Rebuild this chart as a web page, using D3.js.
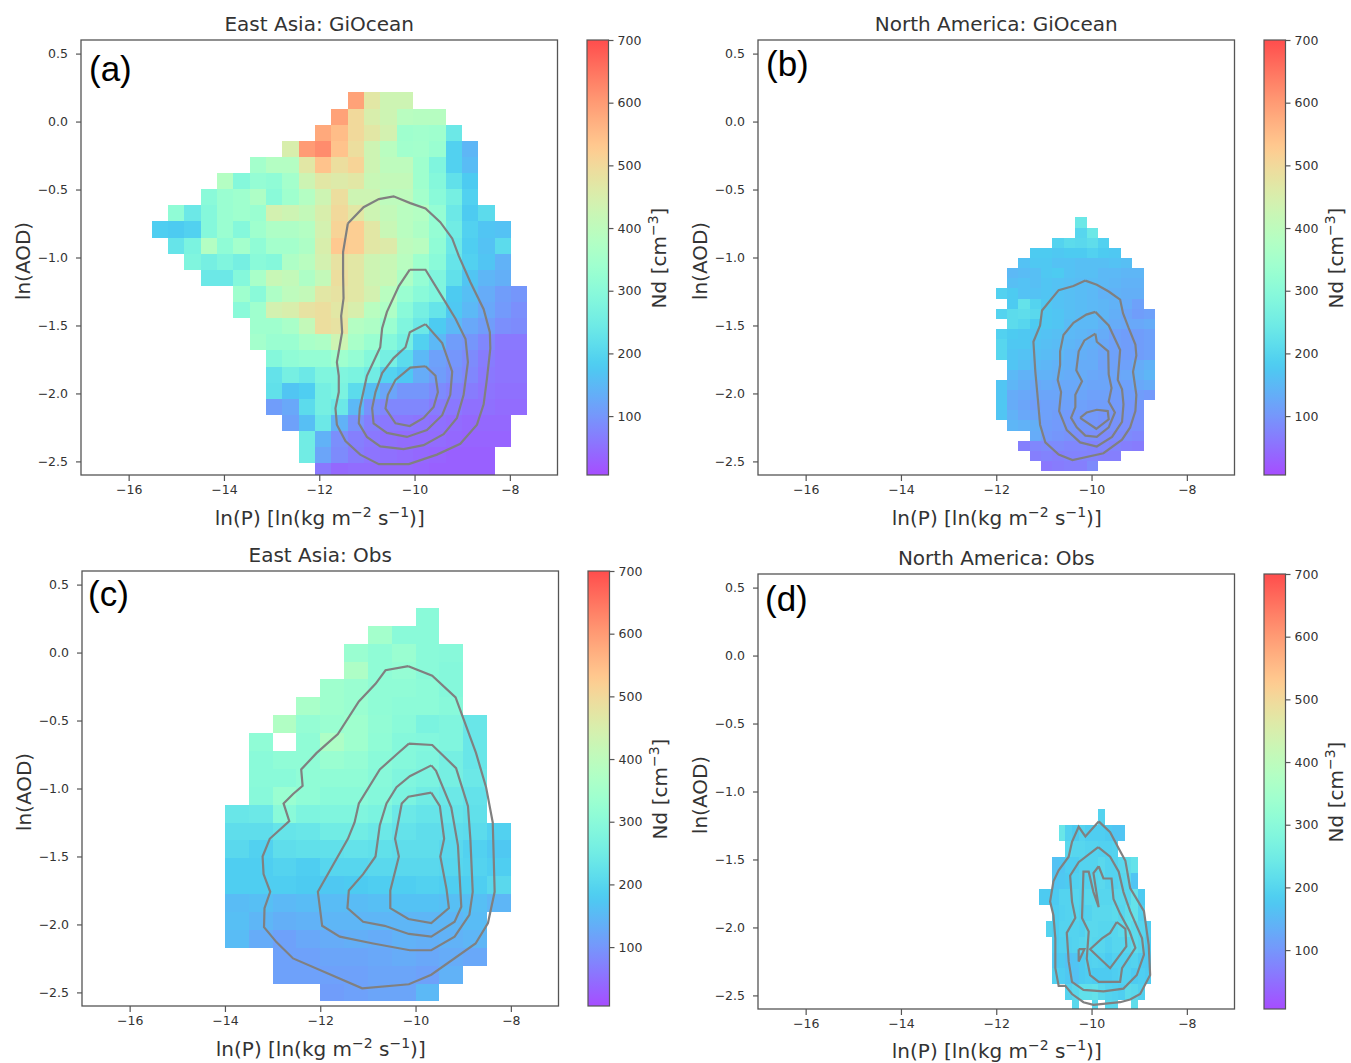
<!DOCTYPE html>
<html>
<head>
<meta charset="utf-8">
<script src="https://cdn.jsdelivr.net/npm/d3@7"></script>
<style>
  body { margin: 0; background: #fff; }
  svg text { font-family: "DejaVu Sans", sans-serif; fill: #333; }
</style>
</head>
<body>
<div id="graph"></div>
<script>
/* globals d3 */
const xTicks = [-16, -14, -12, -10, -8];
const yTicks = [0.5, 0, -0.5, -1, -1.5, -2, -2.5];
const cbarTicks = [100, 200, 300, 400, 500, 600, 700];

// Nd per bin, one list per row from the top, first column of each row in the *Start list
const aStart = [12, 11, 10, 8, 6, 4, 3, 1, 0, 1, 2, 3, 5, 5, 6, 6, 7, 7, 7, 7, 8, 9, 9, 10];
const aGrid = [
  [590, 470, 430, 430],
  [590, 500, 450, 430, 390, 385, 385],
  [580, 550, 500, 470, 440, 340, 345, 340, 240],
  [450, 600, 620, 540, 490, 430, 390, 345, 350, 330, 190, 145],
  [350, 380, 380, 470, 540, 490, 510, 430, 400, 400, 340, 280, 190, 155],
  [380, 290, 320, 310, 350, 430, 470, 460, 470, 420, 410, 410, 340, 290, 220, 180],
  [300, 330, 340, 370, 300, 340, 380, 430, 490, 430, 430, 400, 400, 350, 300, 260, 190],
  [310, 240, 290, 330, 340, 330, 440, 430, 410, 450, 500, 470, 430, 410, 390, 380, 320, 240, 180, 210],
  [185, 180, 190, 290, 330, 290, 340, 370, 370, 380, 440, 510, 520, 470, 420, 390, 370, 320, 250, 190, 170, 165],
  [230, 270, 380, 310, 350, 310, 350, 350, 370, 450, 530, 520, 470, 460, 400, 390, 310, 240, 185, 165, 210],
  [280, 260, 280, 260, 300, 290, 370, 390, 440, 480, 470, 430, 420, 390, 340, 300, 230, 190, 170, 140],
  [240, 240, 290, 360, 420, 410, 370, 410, 490, 470, 430, 420, 370, 320, 280, 220, 170, 145, 135],
  [340, 300, 370, 400, 410, 470, 480, 470, 440, 390, 330, 300, 280, 180, 160, 130, 110, 100],
  [300, 340, 440, 450, 480, 490, 470, 450, 390, 370, 300, 260, 230, 175, 150, 125, 105, 90],
  [340, 340, 360, 410, 490, 480, 380, 370, 330, 280, 240, 180, 150, 125, 110, 90, 85],
  [350, 330, 330, 360, 370, 430, 360, 330, 290, 260, 190, 150, 110, 100, 80, 60, 60],
  [290, 310, 320, 320, 340, 320, 290, 260, 210, 150, 115, 100, 85, 65, 55, 55],
  [225, 260, 240, 280, 280, 270, 250, 195, 175, 130, 110, 95, 80, 60, 55, 55],
  [220, 170, 185, 260, 270, 210, 160, 120, 100, 100, 85, 75, 65, 55, 50, 50],
  [110, 125, 210, 260, 240, 150, 95, 80, 80, 80, 65, 60, 50, 50, 45, 45],
  [115, 160, 240, 140, 95, 70, 60, 60, 55, 50, 45, 40, 40, 40],
  [250, 140, 90, 70, 60, 50, 45, 45, 45, 40, 35, 35, 35],
  [250, 120, 85, 65, 55, 50, 45, 40, 35, 30, 30, 30],
  [60, 40, 45, 45, 40, 40, 35, 30, 30, 30, 30]
];
const aContours = [
  [[-11.40,-0.75],[-11.07,-0.63],[-10.75,-0.57],[-10.44,-0.55],[-10.09,-0.60],[-9.77,-0.64],[-9.46,-0.74],[-9.21,-0.86],[-9.07,-0.99],[-8.83,-1.18],[-8.55,-1.38],[-8.42,-1.55],[-8.41,-1.67],[-8.48,-1.89],[-8.55,-2.08],[-8.69,-2.23],[-9.04,-2.37],[-9.53,-2.45],[-10.12,-2.52],[-10.75,-2.52],[-11.14,-2.45],[-11.45,-2.35],[-11.63,-2.23],[-11.66,-2.11],[-11.59,-1.99],[-11.59,-1.87],[-11.63,-1.77],[-11.52,-1.55],[-11.54,-1.43],[-11.49,-1.30],[-11.50,-1.13],[-11.50,-0.96],[-11.40,-0.75]],
  [[-10.10,-1.09],[-9.77,-1.09],[-9.42,-1.29],[-9.14,-1.45],[-8.93,-1.60],[-8.88,-1.77],[-8.97,-2.01],[-9.11,-2.18],[-9.39,-2.30],[-9.81,-2.38],[-10.23,-2.41],[-10.72,-2.39],[-11.00,-2.32],[-11.17,-2.22],[-11.15,-2.11],[-11.00,-1.87],[-10.72,-1.66],[-10.68,-1.52],[-10.58,-1.40],[-10.33,-1.21],[-10.10,-1.09]],
  [[-9.77,-1.49],[-10.10,-1.55],[-10.19,-1.66],[-10.44,-1.74],[-10.68,-1.85],[-10.82,-1.99],[-10.89,-2.11],[-10.86,-2.22],[-10.58,-2.29],[-10.16,-2.32],[-9.74,-2.27],[-9.42,-2.16],[-9.25,-2.01],[-9.21,-1.84],[-9.42,-1.63],[-9.77,-1.49]],
  [[-9.77,-1.80],[-10.09,-1.81],[-10.40,-1.90],[-10.56,-2.01],[-10.61,-2.11],[-10.40,-2.22],[-10.10,-2.24],[-9.81,-2.18],[-9.60,-2.10],[-9.51,-1.99],[-9.56,-1.87],[-9.77,-1.80]]
];

const bStart = [7, 7, 5, 3, 2, 1, 1, 0, 1, 0, 1, 0, 0, 0, 1, 1, 0, 0, 0, 0, 1, 3, 2, 3, 4];
const bGrid = [
  [240],
  [200, 240],
  [195, 210, 205, 215, 190],
  [180, 180, 175, 180, 180, 190, 180, 175],
  [165, 175, 175, 165, 165, 160, 160, 160, 165, 160],
  [150, 155, 160, 175, 180, 165, 160, 160, 150, 150, 145, 145],
  [160, 165, 160, 170, 165, 160, 155, 155, 150, 145, 140, 140],
  [190, 180, 165, 165, 170, 165, 160, 155, 150, 140, 140, 135, 135],
  [180, 225, 195, 175, 165, 160, 155, 150, 145, 140, 130, 115],
  [195, 210, 215, 205, 175, 170, 160, 155, 150, 145, 135, 120, 110, 115],
  [210, 200, 180, 175, 170, 155, 150, 150, 140, 130, 125, 125, 130],
  [190, 180, 175, 170, 165, 160, 150, 145, 140, 130, 115, 110, 110, 115],
  [200, 175, 175, 165, 160, 155, 145, 140, 135, 125, 115, 110, 110, 115],
  [200, 170, 165, 160, 155, 150, 140, 135, 130, 120, 115, 110, 110, 115],
  [170, 160, 150, 145, 140, 135, 130, 130, 115, 115, 115, 130, 140],
  [150, 140, 140, 140, 135, 130, 130, 125, 120, 120, 125, 135, 145],
  [170, 145, 135, 125, 130, 125, 125, 125, 120, 120, 115, 115, 125, 130],
  [170, 130, 125, 120, 120, 120, 120, 120, 115, 115, 110, 110, 110, 105],
  [175, 130, 120, 110, 115, 115, 115, 115, 110, 110, 105, 100, 100],
  [170, 140, 125, 120, 115, 110, 105, 105, 105, 100, 100, 100, 95],
  [145, 140, 135, 110, 105, 100, 100, 100, 95, 95, 90, 90],
  [130, 105, 100, 95, 90, 90, 85, 85, 85, 80],
  [70, 80, 85, 85, 80, 80, 75, 80, 75, 70, 65],
  [70, 75, 70, 75, 75, 75, 70, 70],
  [60, 65, 70, 70, 85]
];
const bContours = [
  [[-10.13,-1.17],[-9.89,-1.20],[-9.64,-1.25],[-9.40,-1.31],[-9.34,-1.41],[-9.22,-1.52],[-9.08,-1.64],[-9.06,-1.72],[-9.13,-1.84],[-9.06,-2.01],[-9.08,-2.13],[-9.19,-2.25],[-9.36,-2.34],[-9.75,-2.44],[-10.40,-2.49],[-10.69,-2.45],[-10.97,-2.36],[-11.08,-2.23],[-11.13,-2.03],[-11.18,-1.84],[-11.22,-1.62],[-11.08,-1.50],[-11.04,-1.39],[-10.69,-1.24],[-10.38,-1.21],[-10.13,-1.17]],
  [[-9.92,-1.40],[-10.11,-1.42],[-10.38,-1.48],[-10.59,-1.57],[-10.66,-1.69],[-10.66,-1.79],[-10.71,-1.90],[-10.64,-1.99],[-10.68,-2.13],[-10.52,-2.27],[-10.24,-2.36],[-9.89,-2.39],[-9.57,-2.32],[-9.36,-2.21],[-9.33,-2.08],[-9.36,-1.97],[-9.45,-1.90],[-9.40,-1.68],[-9.64,-1.50],[-9.92,-1.40]],
  [[-9.92,-1.56],[-10.15,-1.61],[-10.27,-1.69],[-10.32,-1.83],[-10.20,-1.91],[-10.34,-2.01],[-10.34,-2.10],[-10.43,-2.18],[-10.31,-2.25],[-10.13,-2.31],[-9.89,-2.32],[-9.64,-2.25],[-9.51,-2.14],[-9.64,-2.06],[-9.58,-1.96],[-9.64,-1.86],[-9.65,-1.69],[-9.89,-1.62],[-9.92,-1.56]],
  [[-10.24,-2.18],[-10.10,-2.14],[-9.89,-2.12],[-9.66,-2.13],[-9.64,-2.19],[-9.90,-2.26],[-10.24,-2.18]]
];

const cStart = [8, 6, 5, 5, 4, 3, 2, 1, 1, 1, 1, 0, 0, 0, 0, 0, 0, 0, 0, 2, 2, 4];
const cGrid = [
  [300],
  [350, 300, 300],
  [330, 310, 330, 300, 295],
  [370, 310, 320, 300, 290],
  [340, 330, 310, 310, 305, 290],
  [360, 340, 330, 310, 305, 305, 295],
  [375, 320, 330, 340, 315, 300, 270, 280, 235],
  [310, null, 310, 370, 340, 310, 290, 285, 280, 235],
  [300, 310, 310, 330, 320, 300, 290, 280, 260, 235],
  [300, 300, 310, 310, 310, 295, 280, 270, 260, 240],
  [295, 330, 310, 300, 300, 290, 270, 250, 240, 225],
  [235, 240, 300, 275, 280, 280, 270, 240, 230, 230, 220],
  [215, 215, 230, 235, 250, 250, 240, 225, 215, 215, 210, 190],
  [205, 190, 215, 220, 220, 225, 220, 215, 215, 205, 190, 175],
  [185, 185, 195, 185, 200, 200, 205, 205, 205, 200, 195, 185],
  [185, 185, 185, 180, 175, 180, 185, 185, 190, 185, 185, 205],
  [155, 160, 150, 155, 155, 155, 160, 165, 165, 160, 160, 145],
  [160, 145, 135, 140, 145, 145, 145, 145, 145, 145, 155],
  [155, 130, 115, 125, 130, 135, 130, 140, 135, 140, 145],
  [115, 115, 120, 120, 125, 130, 125, 130, 125],
  [115, 115, 115, 115, 120, 120, 115, 140],
  [110, 115, 120, 120, 150]
];
const cContours = [
  [[-10.15,-0.10],[-10.63,-0.13],[-10.84,-0.23],[-11.19,-0.36],[-11.63,-0.60],[-12.08,-0.74],[-12.40,-0.86],[-12.37,-0.98],[-12.57,-1.04],[-12.77,-1.11],[-12.65,-1.24],[-13.06,-1.37],[-13.21,-1.50],[-13.19,-1.63],[-13.05,-1.76],[-13.17,-1.88],[-13.18,-2.02],[-12.92,-2.13],[-12.57,-2.25],[-11.12,-2.47],[-10.14,-2.44],[-9.67,-2.37],[-8.74,-2.14],[-8.48,-1.99],[-8.34,-1.76],[-8.38,-1.25],[-8.52,-0.99],[-8.73,-0.74],[-9.16,-0.33],[-9.65,-0.17],[-10.15,-0.10]],
  [[-10.14,-0.67],[-9.65,-0.68],[-9.15,-0.85],[-8.90,-1.13],[-8.85,-1.37],[-8.80,-1.76],[-8.87,-1.93],[-9.18,-2.09],[-9.67,-2.19],[-10.12,-2.19],[-10.89,-2.14],[-11.59,-2.09],[-11.96,-2.01],[-12.05,-1.76],[-11.42,-1.37],[-11.28,-1.25],[-11.19,-1.11],[-10.75,-0.86],[-10.40,-0.75],[-10.14,-0.67]],
  [[-9.67,-0.83],[-10.12,-0.91],[-10.40,-0.99],[-10.61,-1.11],[-10.75,-1.27],[-10.84,-1.50],[-11.10,-1.63],[-11.40,-1.75],[-11.43,-1.88],[-11.10,-1.98],[-10.65,-2.01],[-10.14,-2.07],[-9.67,-2.09],[-9.18,-1.98],[-9.04,-1.87],[-9.11,-1.42],[-9.25,-1.14],[-9.57,-0.87],[-9.67,-0.83]],
  [[-9.67,-1.03],[-10.15,-1.06],[-10.29,-1.11],[-10.43,-1.37],[-10.35,-1.50],[-10.53,-1.75],[-10.53,-1.88],[-10.15,-1.96],[-9.67,-1.99],[-9.30,-1.88],[-9.35,-1.74],[-9.48,-1.50],[-9.40,-1.37],[-9.49,-1.13],[-9.67,-1.03]]
];

const dStart = [9, 3, 4, 2, 2, 0, 2, 1, 2, 2, 2, 4, 5];
const dGrid = [
  [195],
  [235, 190, 180, 195, 185, 185, 185, 180, 170, 170],
  [205, 200, 200, 195, 195, 190, 190, 195],
  [165, 170, 185, 185, 195, 195, 195, 205, 195, 195, 205, 215, 225],
  [170, 175, 180, 190, 195, 195, 200, 205, 195, 195, 200, 205, 170],
  [180, 180, 180, 195, 195, 200, 195, 205, 205, 200, 200, 205, 205, 200, 225, 180],
  [185, 190, 195, 200, 190, 195, 205, 205, 205, 210, 200, 215, 225, 190],
  [195, 185, 195, 195, 195, 190, 205, 205, 200, 200, 200, 210, 220, 210, 200, 185],
  [185, 190, 190, 195, 200, 205, 200, 200, 190, 200, 200, 200, 210, 200, 180],
  [175, 180, 165, 170, 180, 190, 195, 190, 180, 190, 190, 190, 195, 180, 175],
  [190, 185, 175, 165, 180, 185, 180, 180, 180, 185, 190, 190, 180, 185, 180],
  [195, 205, 220, 220, 225, 205, 195, 190, 185, 210, 205, 190],
  [205, null, null, 205, null, 205, 205, null, null, 215]
];
const dContours = [
  [[-9.85,-1.22],[-9.61,-1.30],[-9.43,-1.42],[-9.29,-1.51],[-9.19,-1.71],[-8.90,-1.88],[-8.80,-2.13],[-8.77,-2.35],[-8.98,-2.49],[-9.19,-2.53],[-9.40,-2.55],[-9.96,-2.57],[-10.17,-2.55],[-10.41,-2.49],[-10.55,-2.43],[-10.69,-2.43],[-10.76,-2.30],[-10.76,-2.08],[-10.80,-1.91],[-10.87,-1.81],[-10.80,-1.66],[-10.69,-1.58],[-10.48,-1.48],[-10.41,-1.37],[-10.27,-1.26],[-10.13,-1.33],[-9.85,-1.22]],
  [[-9.86,-1.41],[-9.61,-1.48],[-9.43,-1.59],[-9.33,-1.74],[-9.19,-1.88],[-8.94,-2.08],[-8.90,-2.20],[-9.05,-2.35],[-9.33,-2.45],[-9.75,-2.47],[-10.17,-2.46],[-10.41,-2.40],[-10.48,-2.25],[-10.52,-2.04],[-10.34,-1.93],[-10.41,-1.81],[-10.45,-1.62],[-10.27,-1.52],[-9.86,-1.41]],
  [[-9.85,-1.55],[-9.75,-1.64],[-9.58,-1.64],[-9.54,-1.79],[-9.40,-1.90],[-9.20,-2.03],[-9.08,-2.15],[-9.36,-2.30],[-9.40,-2.40],[-9.85,-2.40],[-10.03,-2.35],[-10.10,-2.23],[-10.06,-2.03],[-10.20,-1.93],[-10.17,-1.59],[-10.06,-1.59],[-9.96,-1.74],[-9.85,-1.85],[-9.96,-1.60],[-9.85,-1.55]],
  [[-10.27,-2.16],[-10.15,-2.16],[-10.27,-2.25],[-10.27,-2.16]],
  [[-9.47,-1.96],[-9.29,-2.01],[-9.27,-2.14],[-9.61,-2.30],[-10.03,-2.16],[-9.78,-2.08],[-9.61,-2.04],[-9.47,-1.96]]
];

const panels = [
  {title: 'East Asia: GiOcean', letter: '(a)', start: aStart, grid: aGrid, contours: aContours,
    bins: {x0: -15.515, dx: 0.3426, y0: 0.214, dy: 0.1186},
    left: 81, top: 40, titleY: 31, xLabelY: 525, letterX: 89, letterY: 81},
  {title: 'North America: GiOcean', letter: '(b)', start: bStart, grid: bGrid, contours: bContours,
    bins: {x0: -12.015, dx: 0.239, y0: -0.705, dy: 0.0747},
    left: 758, top: 40, titleY: 31, xLabelY: 525, letterX: 766, letterY: 76},
  {title: 'East Asia: Obs', letter: '(c)', start: cStart, grid: cGrid, contours: cContours,
    bins: {x0: -14, dx: 0.5, y0: 0.329, dy: 0.1316},
    left: 82, top: 571, titleY: 562, xLabelY: 1056, letterX: 88, letterY: 606},
  {title: 'North America: Obs', letter: '(d)', start: dStart, grid: dGrid, contours: dContours,
    bins: {x0: -11.104, dx: 0.1387, y0: -1.132, dy: 0.117},
    left: 758, top: 574, titleY: 565, xLabelY: 1058, letterX: 765, letterY: 611}
];

const plotWidth = 476.5, plotHeight = 435;
const cbarGap = 29.5, cbarWidth = 21.5;

// matplotlib rainbow drawn at alpha 0.7, flattened on white
const rainbow = t => {
  const r = Math.abs(2 * t - 0.5), g = Math.sin(Math.PI * t), b = Math.cos(Math.PI * t / 2);
  const over = c => Math.round(255 * (0.7 * Math.min(1, c) + 0.3));
  return `rgb(${over(r)},${over(g)},${over(b)})`;
};
const color = d3.scaleSequential(rainbow).domain([6, 700]);

const svg = d3.select('#graph')
  .append('svg')
  .attr('width', 1351)
  .attr('height', 1063);

const grad = svg.append('defs').append('linearGradient')
  .attr('id', 'nd')
  .attr('x1', 0).attr('y1', 1).attr('x2', 0).attr('y2', 0);
grad.selectAll('stop')
  .data(d3.range(0, 1.001, 0.02))
  .enter().append('stop')
  .attr('offset', d => d)
  .attr('stop-color', d => rainbow(d));

const styleTicks = a => {
  a.select('.domain').remove();
  a.selectAll('line').attr('stroke', '#555').attr('stroke-width', 1.2);
  a.selectAll('text').attr('font-size', 12.5).attr('font-family', '"DejaVu Sans"').attr('fill', '#333');
};

panels.forEach((p, i) => {
  const x = d3.scaleLinear().domain([-17, -7]).range([0, plotWidth]);
  const y = d3.scaleLinear().domain([0.6, -2.6]).range([0, plotHeight]);
  const g = svg.append('g').attr('transform', `translate(${p.left},${p.top})`);

  svg.append('clipPath').attr('id', `clip${i}`)
    .append('rect').attr('width', plotWidth).attr('height', plotHeight);

  const cells = [];
  p.grid.forEach((row, r) => row.forEach((v, c) => {
    if (v !== null) cells.push({col: p.start[r] + c, row: r, v: v});
  }));

  const b = p.bins;
  g.append('g').attr('clip-path', `url(#clip${i})`)
    .selectAll('rect')
    .data(cells)
    .enter().append('rect')
    .attr('x', d => x(b.x0 + d.col * b.dx))
    .attr('y', d => y(b.y0 - d.row * b.dy))
    .attr('width', d => x(b.x0 + (d.col + 1) * b.dx) - x(b.x0 + d.col * b.dx))
    .attr('height', d => y(b.y0 - (d.row + 1) * b.dy) - y(b.y0 - d.row * b.dy))
    .attr('fill', d => color(d.v))
    .attr('shape-rendering', 'crispEdges');

  const line = d3.line().x(d => x(d[0])).y(d => y(d[1]));
  g.selectAll('path.contour')
    .data(p.contours)
    .enter().append('path')
    .attr('class', 'contour')
    .attr('d', line)
    .attr('fill', 'none')
    .attr('stroke', '#808080')
    .attr('stroke-width', 2.2);

  g.append('g')
    .attr('transform', `translate(0,${plotHeight})`)
    .call(d3.axisBottom(x).tickValues(xTicks).tickFormat(d3.format('d')).tickSize(6).tickPadding(4))
    .call(styleTicks);
  g.append('g')
    .call(d3.axisLeft(y).tickValues(yTicks).tickFormat(d3.format('.1f')).tickSize(5).tickPadding(8))
    .call(styleTicks);

  g.append('rect')
    .attr('width', plotWidth)
    .attr('height', plotHeight)
    .attr('fill', 'none')
    .attr('stroke', '#555')
    .attr('stroke-width', 1.3);

  svg.append('text')
    .attr('x', p.left + plotWidth / 2)
    .attr('y', p.titleY)
    .attr('text-anchor', 'middle')
    .attr('font-size', 20)
    .text(p.title);

  const xLabel = svg.append('text')
    .attr('x', p.left + plotWidth / 2 + 0.5)
    .attr('y', p.xLabelY)
    .attr('text-anchor', 'middle')
    .attr('font-size', 20);
  xLabel.append('tspan').text('ln(P) [ln(kg m');
  xLabel.append('tspan').attr('font-size', 14).attr('dy', -8).text('−2');
  xLabel.append('tspan').attr('dy', 8).text(' s');
  xLabel.append('tspan').attr('font-size', 14).attr('dy', -8).text('−1');
  xLabel.append('tspan').attr('dy', 8).text(')]');

  svg.append('text')
    .attr('transform', `translate(${p.left - 51},${p.top + 221}) rotate(-90)`)
    .attr('text-anchor', 'middle')
    .attr('font-size', 20)
    .text('ln(AOD)');

  svg.append('text')
    .attr('x', p.letterX)
    .attr('y', p.letterY)
    .attr('font-size', 35)
    .style('font-family', '"Liberation Sans", sans-serif')
    .style('fill', '#000')
    .text(p.letter);

  // colour bar
  const cb = g.append('g').attr('transform', `translate(${plotWidth + cbarGap},0)`);
  const yBar = d3.scaleLinear().domain(color.domain()).range([plotHeight, 0]);
  cb.append('rect')
    .attr('width', cbarWidth)
    .attr('height', plotHeight)
    .attr('fill', 'url(#nd)')
    .attr('stroke', '#555')
    .attr('stroke-width', 1.2);
  cb.append('g')
    .attr('transform', `translate(${cbarWidth},0)`)
    .call(d3.axisRight(yBar).tickValues(cbarTicks).tickSize(5).tickPadding(4))
    .call(styleTicks);

  const cbLabel = svg.append('text')
    .attr('transform', `translate(${p.left + plotWidth + 108},${p.top + 218}) rotate(-90)`)
    .attr('text-anchor', 'middle')
    .attr('font-size', 20);
  cbLabel.append('tspan').text('Nd [cm');
  cbLabel.append('tspan').attr('font-size', 14).attr('dy', -8).text('−3');
  cbLabel.append('tspan').attr('dy', 8).text(']');
});
</script>
</body>
</html>
